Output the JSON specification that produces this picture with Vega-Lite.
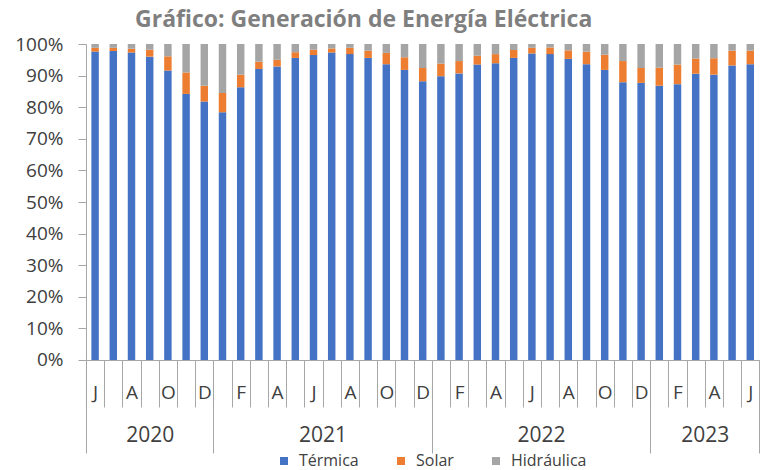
{
  "$schema": "https://vega.github.io/schema/vega-lite/v6.json",
  "width": 673.4,
  "height": 316,
  "autosize": {"type": "none"},
  "padding": {"left": 86, "top": 44, "right": 9, "bottom": 110},
  "background": "white",
  "config": {"view": {"stroke": null}, "font": "Open Sans"},
  "title": {"text": "Gráfico: Generación de Energía Eléctrica", "font": "Open Sans", "fontSize": 23, "fontWeight": "bold", "color": "#7f7f7f", "anchor": "middle", "dx": -59, "offset": 3},
  "data": {"values": [
    {"fecha": "2020-06-15", "Térmica": 97.6, "Solar": 1.2, "Hidráulica": 1.2},
    {"fecha": "2020-07-15", "Térmica": 97.8, "Solar": 1.0, "Hidráulica": 1.2},
    {"fecha": "2020-08-15", "Térmica": 97.3, "Solar": 1.2, "Hidráulica": 1.5},
    {"fecha": "2020-09-15", "Térmica": 96.0, "Solar": 2.2, "Hidráulica": 1.8},
    {"fecha": "2020-10-15", "Térmica": 91.6, "Solar": 4.5, "Hidráulica": 3.9},
    {"fecha": "2020-11-15", "Térmica": 84.2, "Solar": 6.8, "Hidráulica": 9.0},
    {"fecha": "2020-12-15", "Térmica": 81.8, "Solar": 5.0, "Hidráulica": 13.2},
    {"fecha": "2021-01-15", "Térmica": 78.4, "Solar": 6.1, "Hidráulica": 15.5},
    {"fecha": "2021-02-15", "Térmica": 86.3, "Solar": 4.0, "Hidráulica": 9.7},
    {"fecha": "2021-03-15", "Térmica": 92.1, "Solar": 2.3, "Hidráulica": 5.6},
    {"fecha": "2021-04-15", "Térmica": 92.9, "Solar": 2.1, "Hidráulica": 5.0},
    {"fecha": "2021-05-15", "Térmica": 95.6, "Solar": 1.8, "Hidráulica": 2.6},
    {"fecha": "2021-06-15", "Térmica": 96.5, "Solar": 1.7, "Hidráulica": 1.8},
    {"fecha": "2021-07-15", "Térmica": 97.3, "Solar": 1.3, "Hidráulica": 1.4},
    {"fecha": "2021-08-15", "Térmica": 96.8, "Solar": 2.0, "Hidráulica": 1.2},
    {"fecha": "2021-09-15", "Térmica": 95.6, "Solar": 2.3, "Hidráulica": 2.1},
    {"fecha": "2021-10-15", "Térmica": 93.6, "Solar": 3.6, "Hidráulica": 2.8},
    {"fecha": "2021-11-15", "Térmica": 91.8, "Solar": 4.0, "Hidráulica": 4.2},
    {"fecha": "2021-12-15", "Térmica": 88.2, "Solar": 4.2, "Hidráulica": 7.6},
    {"fecha": "2022-01-15", "Térmica": 89.8, "Solar": 4.0, "Hidráulica": 6.2},
    {"fecha": "2022-02-15", "Térmica": 90.7, "Solar": 3.9, "Hidráulica": 5.4},
    {"fecha": "2022-03-15", "Térmica": 93.5, "Solar": 2.8, "Hidráulica": 3.7},
    {"fecha": "2022-04-15", "Térmica": 93.9, "Solar": 2.9, "Hidráulica": 3.2},
    {"fecha": "2022-05-15", "Térmica": 95.6, "Solar": 2.5, "Hidráulica": 1.9},
    {"fecha": "2022-06-15", "Térmica": 97.0, "Solar": 1.8, "Hidráulica": 1.2},
    {"fecha": "2022-07-15", "Térmica": 96.8, "Solar": 2.1, "Hidráulica": 1.1},
    {"fecha": "2022-08-15", "Térmica": 95.3, "Solar": 2.7, "Hidráulica": 2.0},
    {"fecha": "2022-09-15", "Térmica": 93.6, "Solar": 4.0, "Hidráulica": 2.4},
    {"fecha": "2022-10-15", "Térmica": 91.8, "Solar": 4.8, "Hidráulica": 3.4},
    {"fecha": "2022-11-15", "Térmica": 87.9, "Solar": 6.7, "Hidráulica": 5.4},
    {"fecha": "2022-12-15", "Térmica": 87.7, "Solar": 4.7, "Hidráulica": 7.6},
    {"fecha": "2023-01-15", "Térmica": 86.8, "Solar": 5.7, "Hidráulica": 7.5},
    {"fecha": "2023-02-15", "Térmica": 87.3, "Solar": 6.2, "Hidráulica": 6.5},
    {"fecha": "2023-03-15", "Térmica": 90.6, "Solar": 4.8, "Hidráulica": 4.6},
    {"fecha": "2023-04-15", "Térmica": 90.3, "Solar": 5.2, "Hidráulica": 4.5},
    {"fecha": "2023-05-15", "Térmica": 93.2, "Solar": 4.7, "Hidráulica": 2.1},
    {"fecha": "2023-06-15", "Térmica": 93.6, "Solar": 4.3, "Hidráulica": 2.1}
  ]},
  "transform": [{"fold": ["Térmica", "Solar", "Hidráulica"], "as": ["fuente", "valor"]}],
  "layer": [
    {
      "mark": {"type": "bar", "width": {"band": 0.41}},
      "encoding": {
        "x": {
          "field": "fecha", "timeUnit": "yearmonth", "type": "ordinal",
          "scale": {"paddingInner": 0, "paddingOuter": 0},
          "axis": {
            "title": null, "orient": "bottom",
            "domainColor": "#a6a6a6", "tickColor": "#a6a6a6",
            "tickBand": "extent", "tickSize": 47,
            "labelExpr": "month(datum.value) % 2 == 1 ? substring(timeFormat(datum.value, '%b'), 0, 1) : ''",
            "labelAngle": 0, "labelBaseline": "middle", "labelPadding": -14,
            "labelFont": "Open Sans", "labelFontSize": 19, "labelColor": "#404040",
            "labelOverlap": false, "labelBound": false, "labelFlush": false
          }
        },
        "y": {
          "field": "valor", "type": "quantitative", "stack": "normalize",
          "axis": {
            "title": null, "values": [0, 0.1, 0.2, 0.3, 0.4, 0.5, 0.6, 0.7, 0.8, 0.9, 1],
            "format": ".0%", "grid": false,
            "domainColor": "#a6a6a6", "tickColor": "#a6a6a6", "tickSize": 8,
            "labelPadding": 15, "labelFont": "Open Sans", "labelFontSize": 19, "labelColor": "#404040"
          }
        },
        "color": {
          "field": "fuente", "type": "nominal",
          "sort": ["Térmica", "Solar", "Hidráulica"],
          "scale": {"domain": ["Térmica", "Solar", "Hidráulica"], "range": ["#4472C4", "#ED7D31", "#A5A5A5"]},
          "legend": {
            "orient": "none", "legendX": 190, "legendY": 409, "direction": "horizontal",
            "title": null, "symbolType": "square", "symbolSize": 64, "symbolStrokeWidth": 0,
            "labelFont": "Open Sans", "labelFontSize": 16, "labelColor": "#404040",
            "columnPadding": 34, "labelOffset": 7
          }
        }
      }
    },
    {
      "mark": {"type": "rule", "opacity": 0},
      "encoding": {
        "x": {
          "field": "fecha", "timeUnit": "yearmonth", "type": "ordinal",
          "axis": {
            "title": null, "orient": "bottom", "domain": false,
            "tickBand": "extent", "tickSize": 93, "tickColor": "#a6a6a6",
            "tickOpacity": {"condition": {"test": "datum.extra || month(datum.value) == 11 || (year(datum.value) == 2023 && month(datum.value) == 5)", "value": 1}, "value": 0},
            "labelExpr": "((year(datum.value) == 2020 && month(datum.value) == 8) || ((year(datum.value) == 2021 || year(datum.value) == 2022) && month(datum.value) == 5) || (year(datum.value) == 2023 && month(datum.value) == 2)) ? timeFormat(datum.value, '%Y') : ''",
            "labelOffset": {"condition": {"test": "year(datum.value) != 2020", "value": 9.1}, "value": 0},
            "labelAngle": 0, "labelBaseline": "middle", "labelPadding": -17,
            "labelFont": "Open Sans", "labelFontSize": 21, "labelColor": "#404040",
            "labelOverlap": false, "labelBound": false, "labelFlush": false
          }
        }
      }
    }
  ],
  "resolve": {"axis": {"x": "independent"}}
}
